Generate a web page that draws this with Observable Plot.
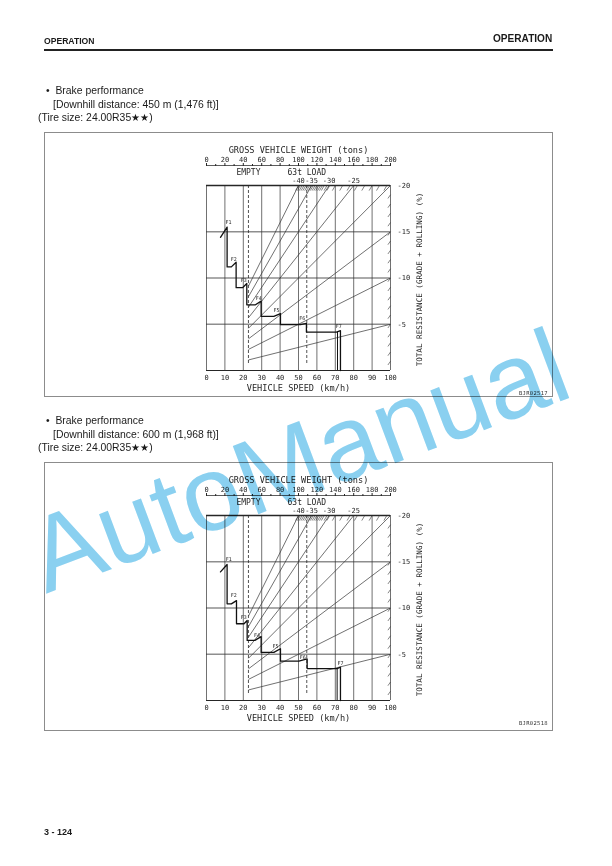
<!DOCTYPE html>
<html><head><meta charset="utf-8">
<script src="https://cdn.jsdelivr.net/npm/d3@7"></script>
<script src="https://cdn.jsdelivr.net/npm/@observablehq/plot@0.6"></script>
<style>
html,body{margin:0;padding:0;background:#fff;}
body{width:612px;height:866px;position:relative;overflow:hidden;font-family:"Liberation Sans",Arial,sans-serif;color:#1a1a1a;}
.abs{position:absolute;white-space:nowrap;}
.hdr{font-weight:bold;}
.txt{font-size:10.4px;line-height:12px;}
.box{position:absolute;left:44px;width:509px;border:1px solid #8c8c8c;box-sizing:border-box;}
.code{font-family:"DejaVu Sans Mono",monospace;font-size:5.5px;line-height:6px;letter-spacing:0.3px;color:#333;}
.chart{position:absolute;left:150px;}
.wm{font-size:106px;line-height:106px;color:#8ad0f0;mix-blend-mode:multiply;transform:rotate(-20.5deg);text-align:center;width:612px;z-index:5;}
</style></head><body>
<div class="abs hdr" style="left:44px;top:36px;font-size:8.6px;">OPERATION</div>
<div class="abs hdr" style="left:493px;top:33px;font-size:10.1px;">OPERATION</div>
<div class="abs" style="left:44px;top:48.5px;width:509px;height:2px;background:#222;"></div>

<div class="abs txt" style="left:46px;top:85px;">•&nbsp;&nbsp;Brake performance</div>
<div class="abs txt" style="left:53px;top:98.5px;">[Downhill distance: 450 m (1,476 ft)]</div>
<div class="abs txt" style="left:38px;top:112px;">(Tire size: 24.00R35★★)</div>
<div class="box" style="top:132px;height:265px;"></div>
<div class="abs code" style="left:519px;top:390px;">BJR02517</div>

<div class="abs txt" style="left:46px;top:415px;">•&nbsp;&nbsp;Brake performance</div>
<div class="abs txt" style="left:53px;top:429px;">[Downhill distance: 600 m (1,968 ft)]</div>
<div class="abs txt" style="left:38px;top:442px;">(Tire size: 24.00R35★★)</div>
<div class="box" style="top:462px;height:269px;"></div>
<div class="abs code" style="left:519px;top:720px;">BJR02518</div>

<div class="abs hdr" style="left:44px;top:827px;font-size:9px;">3 - 124</div>

<div id="c1" class="chart" style="top:135px;"></div>
<div id="c2" class="chart" style="top:465px;"></div>

<div class="abs wm" style="left:-8px;top:407px;">AutoManual</div>

<script>
// ---- axis / scale data ----
const speedTicks = [0,10,20,30,40,50,60,70,80,90,100];
const weightTicks = [0,20,40,60,80,100,120,140,160,180,200];
const weightMinor = [10,30,50,70,90,110,130,150,170,190];
const resTicks = [-20,-15,-10,-5];
const resGrid = [-5,-10,-15];
const resLines = [-5,-10,-15,-20,-25,-30,-35,-40];
const resTopLabels = [-40,-35,-30,-25];
const refLabels = ["EMPTY","63t LOAD"];
const refSpeeds = [22.8,54.5];
const hatchTop = [50,51,52,53,54,55,56,57,58,59,60,61,62,63,64,65.5,67,70,74,78,82,86,90,94,98];
const hatchRight = [-1,-2,-3,-4,-5,-6,-7,-8,-9,-10,-11,-12,-13,-14,-15,-16,-17,-18,-19];
const gears = ["F1","F2","F3","F4","F5","F6","F7"];

// ---- chart 1: downhill 450 m ----
const step1Speed = [7.6,11.2,11.2,13.5,16.1,16.1,19.6,21.9,21.9,26.6,29.7,29.7,36.6,40.2,40.2,51.1,54.3,54.3,70.6,72.8,72.8];
const step1Res   = [-14.4,-15.5,-11.2,-11.2,-11.7,-8.95,-8.95,-9.4,-7.1,-7.1,-7.5,-5.85,-5.85,-6.15,-4.95,-4.95,-5.1,-4.15,-4.15,-4.3,0];
const inner1Speed = 71.2, inner1Res = -4.15;
const gear1Speed = [12.0,14.8,20.3,28.4,38.0,52.0,71.9];
const gear1Res   = [-16.0,-12.0,-9.7,-7.8,-6.45,-5.6,-4.75];

// ---- chart 2: downhill 600 m ----
const step2Speed = [7.6,11.2,11.2,13.5,16.3,16.3,20.4,22.1,22.1,26.3,29.7,29.7,36.6,40.2,40.2,50.2,54.7,54.7,71.0,72.8,72.8];
const step2Res   = [-13.9,-14.7,-10.45,-10.45,-10.8,-8.3,-8.3,-8.65,-6.5,-6.5,-6.9,-5.2,-5.2,-5.6,-4.25,-4.25,-4.5,-3.45,-3.45,-3.6,0];
const inner2Speed = 71.0, inner2Res = -3.45;
const gear2Speed = [12.1,14.8,20.3,27.5,37.5,52.3,72.8];
const gear2Res   = [-15.3,-11.35,-9.0,-7.0,-5.84,-4.7,-4.0];

const emptySpeed = refSpeeds[0];

function drawChart(stepSpeed, stepRes, innerSpeed, innerRes, gearSpeed, gearRes) {
  const stepData = stepSpeed.map((s, i) => ({s, r: stepRes[i]}));
  const gearData = gears.map((g, i) => ({g, s: gearSpeed[i], r: gearRes[i]}));
  const refData = refLabels.map((l, i) => ({l, s: refSpeeds[i]}));
  const ink = "#262626";
  return Plot.plot({
    width: 320, height: 260,
    marginLeft: 56, marginRight: 80, marginTop: 50, marginBottom: 25,
    x: {domain: [0, 100]},
    y: {domain: [0, -20]},
    style: {fontFamily: "'DejaVu Sans Mono', monospace", fontSize: "7px", color: ink, background: "transparent", overflow: "visible"},
    marks: [
      Plot.ruleY(resGrid, {stroke: "#8e8e8e", strokeWidth: 1.6}),
      Plot.ruleX(speedTicks, {y1: 0, y2: -20, stroke: "#333", strokeWidth: 0.7}),
      Plot.ruleY([-20], {stroke: ink, strokeWidth: 1.4}),
      Plot.ruleY([0], {stroke: ink, strokeWidth: 1}),
      Plot.ruleX(refData, {x: "s", y1: 0, y2: -20, insetTop: -7, stroke: ink, strokeWidth: 0.8, strokeDasharray: "3,2"}),
      Plot.link(resLines, {x1: () => emptySpeed, y1: r => r * emptySpeed / 100, x2: r => Math.min(100, -2000 / r), y2: r => Math.max(r, -20), stroke: "#333", strokeWidth: 0.7}),
      Plot.link(hatchTop, {x1: d => d - 1.6, y1: -19.45, x2: d => d, y2: -20, stroke: "#333", strokeWidth: 0.6}),
      Plot.link(hatchRight, {x1: 98.6, y1: d => d + 0.4, x2: 100, y2: d => d, stroke: "#333", strokeWidth: 0.6}),
      Plot.line(stepData, {x: "s", y: "r", stroke: "#111", strokeWidth: 1.3}),
      Plot.ruleX([innerSpeed], {y1: 0, y2: innerRes, stroke: "#111", strokeWidth: 1}),
      Plot.text(gearData, {x: "s", y: "r", text: "g", fontSize: 5}),
      // bottom axis: vehicle speed
      Plot.axisX({anchor: "bottom", ticks: speedTicks, tickSize: 0, tickPadding: 4.5, tickFormat: d => String(d), label: null, fontSize: 7}),
      Plot.text(["VEHICLE SPEED (km/h)"], {frameAnchor: "bottom", dy: 20, text: d => d, fontSize: 8.6}),
      // top axis: gross vehicle weight (tons) — 0..200 t on the same span as 0..100 km/h
      Plot.ruleY([-20], {dy: -20, stroke: "#333", strokeWidth: 0.8}),
      Plot.axisX({anchor: "top", ticks: weightTicks.map(w => w / 2), tickFormat: s => String(s * 2), tickSize: 3, tickPadding: 1, dy: -20, label: null, fontSize: 7}),
      Plot.axisX({anchor: "top", ticks: weightMinor.map(w => w / 2), tickFormat: () => "", tickSize: 2, dy: -20, label: null}),
      Plot.text(["GROSS VEHICLE WEIGHT (tons)"], {frameAnchor: "top", dy: -39, text: d => d, fontSize: 8.6}),
      Plot.text(refData, {x: "s", y: -20, dy: -13, text: "l", fontSize: 8}),
      Plot.text(resTopLabels, {x: r => -2000 / r, y: -20, dy: -5, text: r => String(r), fontSize: 7}),
      // right axis: total resistance
      Plot.axisY({anchor: "right", ticks: resTicks, tickSize: 0, tickPadding: 7, tickFormat: d => String(d), label: null, fontSize: 7}),
      Plot.text(["TOTAL RESISTANCE (GRADE + ROLLING) (%)"], {frameAnchor: "right", dx: 29, dy: 1.5, rotate: -90, textAnchor: "middle", text: d => d, fontSize: 7.6})
    ]
  });
}

document.getElementById("c1").append(drawChart(step1Speed, step1Res, inner1Speed, inner1Res, gear1Speed, gear1Res));
document.getElementById("c2").append(drawChart(step2Speed, step2Res, inner2Speed, inner2Res, gear2Speed, gear2Res));
</script>
</body></html>
